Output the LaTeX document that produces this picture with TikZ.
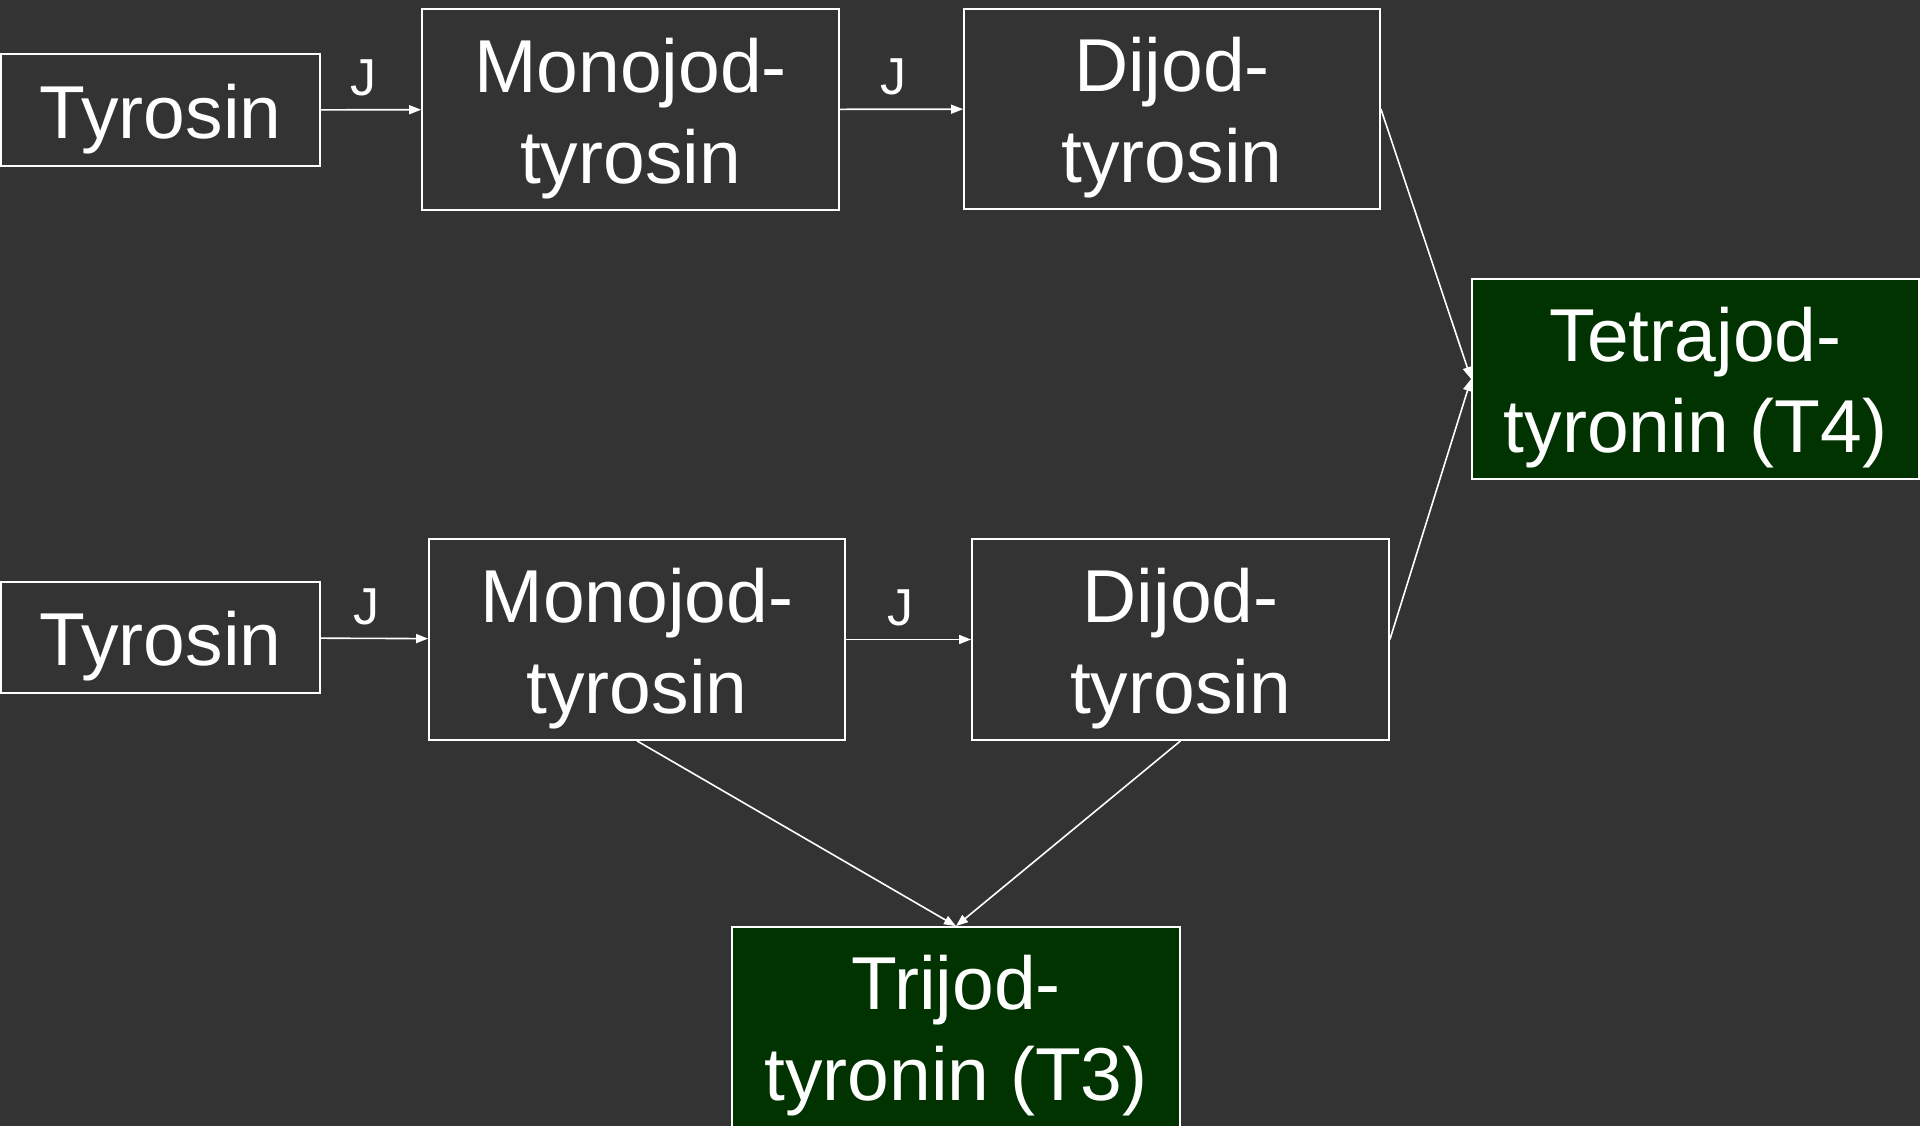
\documentclass[tikz,border=0pt]{standalone}
\usepackage{fontspec}
\setmainfont{Liberation Sans}
\usetikzlibrary{arrows.meta}
\definecolor{bg}{HTML}{333333}
\definecolor{hormone}{HTML}{003300}
% box caption, set a little below the optical centre of its box
\newcommand\boxtext[1]{\raisebox{-10pt}[\height][\depth]{\begin{tabular}{@{}c@{}}#1\end{tabular}}}
\begin{document}
\begin{tikzpicture}[x=1pt,y=-1pt,
  box/.style={draw=white, line width=1.8pt, text=white, inner sep=0pt,
    font=\fontsize{75}{91}\selectfont},
  stage/.style={box, fill=bg},
  product/.style={box, fill=hormone},
  conn/.style={draw=white, line width=1.6pt, -{Triangle[length=12pt,width=9pt]}},
  jlabel/.style={text=white, font=\fontsize{52}{60}\selectfont, inner sep=13pt, xshift=-8pt}]
\clip (0,0) rectangle (1920,1126);
\fill[bg] (0,0) rectangle (1920,1126);

% upper chain
\node[stage, minimum width=319pt, minimum height=112pt] (ty1) at (160.5,110) {\boxtext{Tyrosin}};
\node[stage, minimum width=417pt, minimum height=201pt] (mo1) at (630.5,109.5) {\boxtext{Monojod-\\tyrosin}};
\node[stage, minimum width=416pt, minimum height=200pt] (di1) at (1172,109) {\boxtext{Dijod-\\tyrosin}};

% lower chain
\node[stage, minimum width=319pt, minimum height=111pt] (ty2) at (160.5,637.5) {\boxtext{Tyrosin}};
\node[stage, minimum width=416pt, minimum height=201pt] (mo2) at (637,639.5) {\boxtext{Monojod-\\tyrosin}};
\node[stage, minimum width=417pt, minimum height=201pt] (di2) at (1180.5,639.5) {\boxtext{Dijod-\\tyrosin}};

% hormones
\node[product, minimum width=447pt, minimum height=200pt] (t4) at (1695.5,379) {\boxtext{Tetrajod-\\tyronin (T4)}};
\node[product, minimum width=448pt, minimum height=200pt] (t3) at (956,1027) {\boxtext{Trijod-\\tyronin (T3)}};

% iodination steps
\draw[conn] (ty1) -- node[jlabel, above] {J} (mo1);
\draw[conn] (mo1) -- node[jlabel, above] {J} (di1);
\draw[conn] (ty2) -- node[jlabel, above] {J} (mo2);
\draw[conn] (mo2) -- node[jlabel, above] {J} (di2);

% coupling
\draw[conn] (di1.east) -- (t4.west);
\draw[conn] (di2.east) -- (t4.west);
\draw[conn] (mo2.south) -- (t3.north);
\draw[conn] (di2.south) -- (t3.north);
\end{tikzpicture}
\end{document}
